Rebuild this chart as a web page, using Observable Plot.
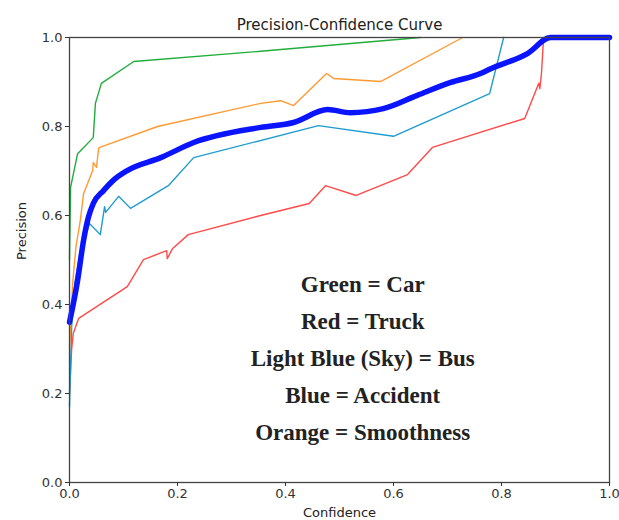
<!DOCTYPE html>
<html>
<head>
<meta charset="utf-8">
<script src="https://cdn.jsdelivr.net/npm/d3@7"></script>
<script src="https://cdn.jsdelivr.net/npm/@observablehq/plot@0.6"></script>
<style>
  html, body { margin: 0; padding: 0; background: #fff; }
  #chart svg { display: block; }
</style>
</head>
<body>
<div id="chart"></div>
<script>
// Series: [confidence, precision]
const carPts = [[0,0.50],[0.002,0.663],[0.015,0.739],[0.044,0.775],[0.048,0.852],[0.059,0.897],[0.119,0.946],[0.354,0.969],[0.65,1.0]];
const truckPts = [[0,0.20],[0.004,0.30],[0.007,0.335],[0.017,0.369],[0.107,0.44],[0.137,0.501],[0.18,0.521],[0.181,0.503],[0.191,0.526],[0.22,0.557],[0.354,0.600],[0.444,0.627],[0.474,0.667],[0.531,0.645],[0.626,0.692],[0.672,0.753],[0.843,0.818],[0.869,0.897],[0.871,0.885],[0.874,0.919],[0.878,1.0]];
const busPts = [[0,0.17],[0.004,0.35],[0.01,0.45],[0.02,0.52],[0.037,0.582],[0.057,0.557],[0.063,0.604],[0.065,0.62],[0.067,0.607],[0.091,0.643],[0.113,0.616],[0.183,0.667],[0.230,0.730],[0.461,0.802],[0.600,0.778],[0.778,0.874],[0.804,1.0]];
const smoothPts = [[0,0.30],[0.006,0.45],[0.012,0.53],[0.020,0.589],[0.026,0.649],[0.043,0.701],[0.044,0.719],[0.050,0.708],[0.054,0.751],[0.056,0.753],[0.163,0.800],[0.354,0.852],[0.391,0.858],[0.415,0.847],[0.476,0.919],[0.489,0.908],[0.576,0.901],[0.728,1.0]];
const accidentPts = [[0,0.36],[0.015,0.454],[0.026,0.544],[0.035,0.596],[0.044,0.627],[0.063,0.656],[0.081,0.679],[0.107,0.701],[0.169,0.730],[0.230,0.764],[0.354,0.798],[0.415,0.809],[0.478,0.838],[0.52,0.831],[0.581,0.840],[0.644,0.870],[0.706,0.899],[0.761,0.919],[0.780,0.930],[0.848,0.964],[0.891,1.0],[1.0,1.0]];

const tickValues = [0, 0.2, 0.4, 0.6, 0.8, 1.0];
const legendLines = ["Green = Car", "Red = Truck", "Light Blue (Sky) = Bus", "Blue = Accident", "Orange = Smoothness"];
const titleText = "Precision-Confidence Curve";
const xLabel = "Confidence";
const yLabel = "Precision";

const toRows = pts => pts.map(([x, y]) => ({x, y}));

const legendRows = legendLines.map((t, i) => ({t, i}));

const chart = Plot.plot({
  width: 619,
  height: 520,
  marginLeft: 69,
  marginRight: 10,
  marginTop: 37,
  marginBottom: 38,
  style: {fontFamily: "DejaVu Sans, sans-serif", fontSize: "13px", color: "#333", background: "#fff"},
  x: {domain: [0, 1], ticks: tickValues, tickFormat: d3.format(".1f"), label: null, tickSize: 4},
  y: {domain: [0, 1], ticks: tickValues, tickFormat: d3.format(".1f"), label: null, tickSize: 4},
  marks: [
    Plot.line(toRows(truckPts), {x: "x", y: "y", stroke: "#ff4a4a", strokeWidth: 1.4}),
    Plot.line(toRows(busPts), {x: "x", y: "y", stroke: "#1f9ccf", strokeWidth: 1.4}),
    Plot.line(toRows(smoothPts), {x: "x", y: "y", stroke: "#ff9a33", strokeWidth: 1.4}),
    Plot.line(toRows(carPts), {x: "x", y: "y", stroke: "#22ad3c", strokeWidth: 1.4}),
    Plot.line(toRows(accidentPts), {x: "x", y: "y", stroke: "#0a14ff", strokeWidth: 5.5, curve: "monotone-x"}),
    Plot.frame({stroke: "#444", strokeWidth: 1.3}),
    Plot.axisX({ticks: tickValues, tickFormat: d3.format(".1f"), tickSize: 4, tickPadding: 2, fontSize: 13}),
    Plot.axisY({ticks: tickValues, tickFormat: d3.format(".1f"), tickSize: 4, tickPadding: 3, fontSize: 13}),
    Plot.text(legendRows, {
      x: () => 0.543,
      y: d => 0.445 - d.i * 0.083,
      text: "t",
      fontFamily: "Liberation Serif, serif",
      fontWeight: "bold",
      fontSize: 23,
      fill: "#222"
    }),
    Plot.text([titleText], {frameAnchor: "top", dy: -18, text: d => d, fontSize: 15, fill: "#222"}),
    Plot.text([xLabel], {frameAnchor: "bottom", dy: 34, text: d => d, fontSize: 13, fill: "#222"}),
    Plot.text([yLabel], {frameAnchor: "left", dx: -48, rotate: -90, text: d => d, fontSize: 13, fill: "#222"})
  ]
});
document.getElementById("chart").appendChild(chart);
</script>
</body>
</html>
